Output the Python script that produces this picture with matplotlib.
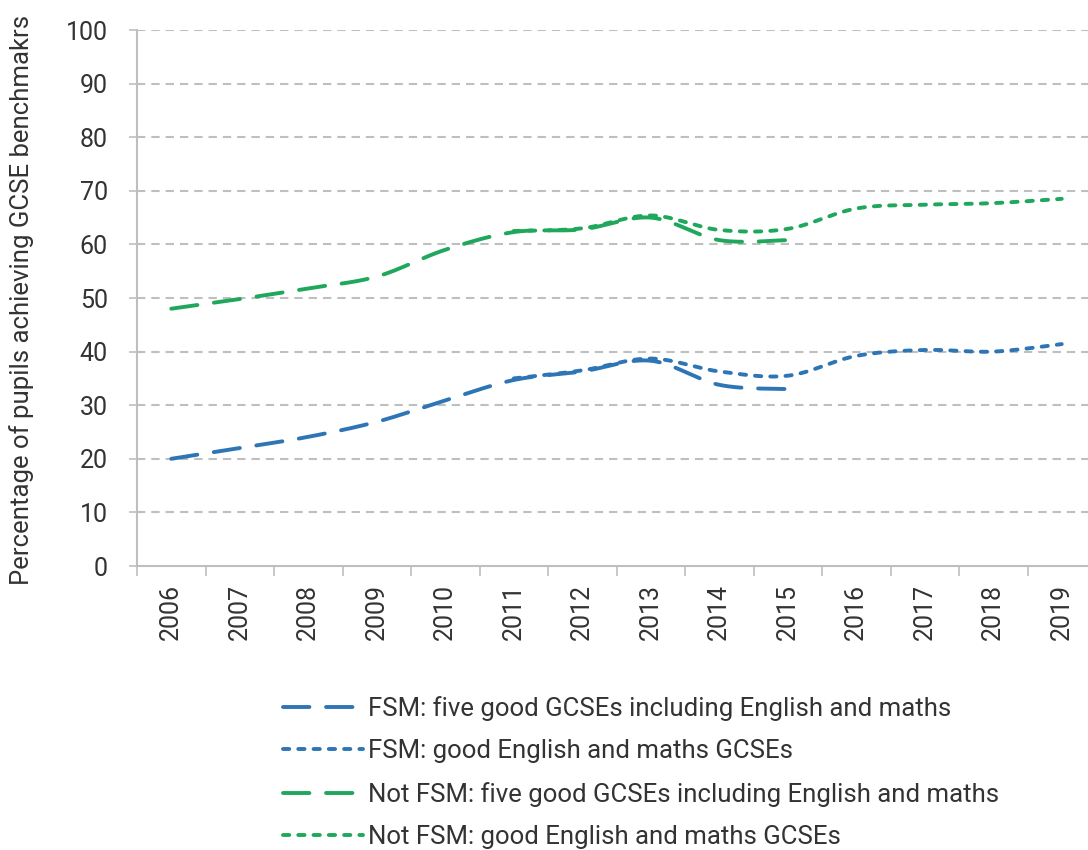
import numpy as np
import matplotlib
matplotlib.use("Agg")
import matplotlib.pyplot as plt
from matplotlib.lines import Line2D

plt.rcParams['font.family'] = ['Roboto', 'DejaVu Sans']
plt.rcParams['lines.scale_dashes'] = False

years = ['2006', '2007', '2008', '2009', '2010', '2011', '2012',
         '2013', '2014', '2015', '2016', '2017', '2018', '2019']
fsm_five = [20.0, 22.0, 24.1, 26.9, 30.9, 34.7, 36.3, 38.3, 33.8, 33.0]
fsm_eng_years = ['2011', '2012', '2013', '2014', '2015', '2016', '2017', '2018', '2019']
fsm_eng = [35.0, 36.5, 38.7, 36.3, 35.5, 39.2, 40.3, 40.0, 41.4]
notfsm_five = [48.0, 49.8, 51.8, 54.0, 59.0, 62.3, 62.8, 65.0, 60.8, 60.8]
notfsm_eng = [62.5, 63.0, 65.4, 62.7, 62.9, 66.7, 67.4, 67.7, 68.5]

labels = ['FSM: five good GCSEs including English and maths',
          'FSM: good English and maths GCSEs',
          'Not FSM: five good GCSEs including English and maths',
          'Not FSM: good English and maths GCSEs']

BLUE = '#2E75B6'
GREEN = '#1FA85C'
TXT = '#333333'
GRID = '#BFBFBF'


def smooth(x, y, n=40):
    """Excel-like smoothed line (Catmull-Rom via cubic Bezier)."""
    x = np.asarray(x, float)
    y = np.asarray(y, float)
    P = np.column_stack([x, y])
    m = len(P)
    out = []
    for i in range(m - 1):
        p0 = P[i - 1] if i > 0 else P[i]
        p1 = P[i]
        p2 = P[i + 1]
        p3 = P[i + 2] if i + 2 < m else P[i + 1]
        c1 = p1 + (p2 - p0) / 6.0
        c2 = p2 - (p3 - p1) / 6.0
        t = np.linspace(0, 1, n)[:, None]
        seg = ((1 - t) ** 3) * p1 + 3 * ((1 - t) ** 2) * t * c1 + 3 * (1 - t) * t ** 2 * c2 + t ** 3 * p2
        if i > 0:
            seg = seg[1:]
        out.append(seg)
    out = np.vstack(out)
    return out[:, 0], out[:, 1]


fig = plt.figure(figsize=(10.88, 8.5), dpi=100)
ax = fig.add_axes([137 / 1088, 1 - 566 / 850, (1096 - 137) / 1088, (566 - 30) / 850])

xpos = {yr: i for i, yr in enumerate(years)}
lw = 2.8
long_dash = (0, (19, 12))
short_dash = (0, (4.5, 6.5))

series = [
    (years[:len(fsm_five)], fsm_five, BLUE, long_dash),
    (fsm_eng_years, fsm_eng, BLUE, short_dash),
    (years[:len(notfsm_five)], notfsm_five, GREEN, long_dash),
    (fsm_eng_years, notfsm_eng, GREEN, short_dash),
]
handles = []
for (yrs, vals, col, ls), lab in zip(series, labels):
    xs = [xpos[v] for v in yrs]
    sx, sy = smooth(xs, vals)
    ax.plot(sx, sy, color=col, lw=lw, linestyle=ls, dash_capstyle='round', zorder=3)
    handles.append(Line2D([], [], color=col, lw=lw, linestyle=ls, dash_capstyle='round'))

ax.set_xlim(-0.5, len(years) - 0.5)
ax.set_ylim(0, 100)
ax.set_yticks(np.arange(0, 101, 10))
ax.set_xticks(range(len(years)))
ax.set_xticklabels(years, rotation=90)
ax.set_xticks(np.arange(-0.5, len(years), 1), minor=True)
ax.tick_params(axis='x', which='major', length=0, pad=13, labelsize=18, labelcolor=TXT)
ax.tick_params(axis='x', which='minor', length=7, width=1.2, color=GRID, direction='out')
ax.tick_params(axis='y', length=6, width=1.2, color=GRID, pad=15, labelsize=18, labelcolor=TXT)

ax.grid(axis='y', color=GRID, lw=1.5, linestyle=(0, (6, 4.3)))
ax.set_axisbelow(True)
for s in ['top', 'right']:
    ax.spines[s].set_visible(False)
for s in ['left', 'bottom']:
    ax.spines[s].set_color(GRID)
    ax.spines[s].set_linewidth(1.5)
ax.yaxis.get_gridlines()[0].set_visible(False)

fig.text(22 / 1088, 1 - 300 / 850, 'Percentage of pupils achieving GCSE benchmakrs',
         rotation=90, ha='center', va='center', fontsize=18.5, color=TXT)

leg = fig.legend(handles, labels, loc='upper center', bbox_to_anchor=(641 / 1088, 1 - 683 / 850),
                 frameon=False, fontsize=18.5, handlelength=3.1, handletextpad=0.2,
                 labelspacing=0.72, borderpad=0)
for t in leg.get_texts():
    t.set_color(TXT)

fig.savefig('out.png', dpi=100)
